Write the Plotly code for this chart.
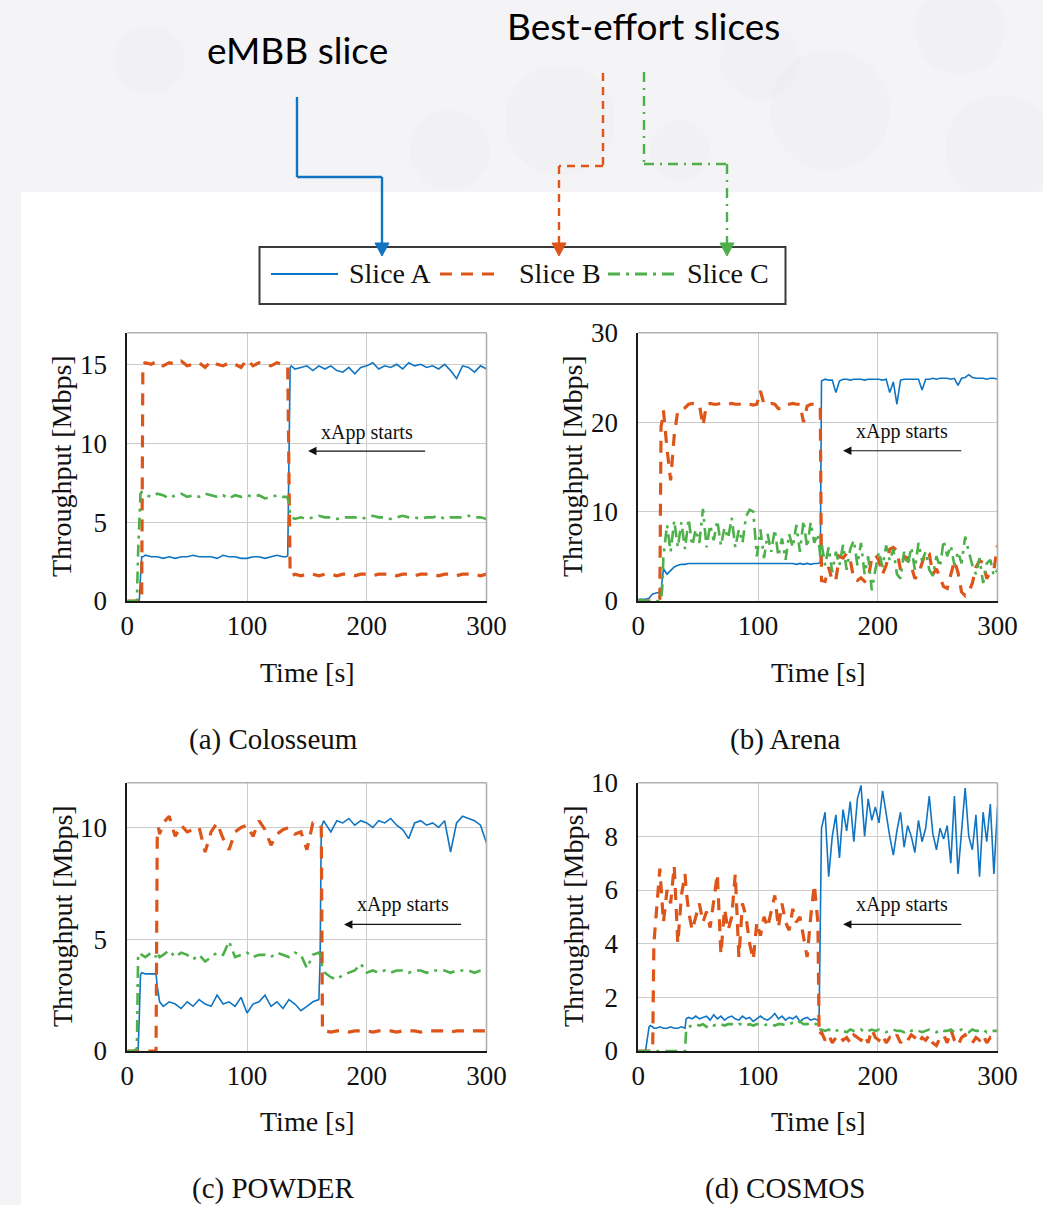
import plotly.graph_objects as go
from plotly.subplots import make_subplots

W, H = 1043, 1205

# ------------------------------------------------------------------ data
# (a) Colosseum
t_a = [0, 5, 8, 9, 10, 11, 12, 13, 15,
       20, 25, 30, 35, 40, 45, 50, 55, 60, 65, 70, 75, 80, 85, 90, 95, 100, 105, 110, 115, 120, 125, 130,
       133, 134, 135, 136, 137,
       140, 145, 150, 155, 160, 165, 170, 175, 180, 185,
       190, 195, 200, 205, 210, 215, 220, 225, 230, 235,
       240, 245, 250, 255, 260, 265, 270, 275, 280, 285,
       290, 295, 300]
a_sliceA = [0, 0, 0, 0, 0, 1.5, 2.8, 2.8, 2.9,
            2.8, 2.8, 2.7, 2.8, 2.7, 2.8, 2.8, 2.9, 2.8, 2.8, 2.8, 2.7, 2.9, 2.8, 2.8, 2.7, 2.7, 2.8, 2.8, 2.7, 2.8, 2.9, 2.8,
            2.8, 2.9, 9.0, 14.8, 14.9,
            14.7, 14.8, 14.9, 14.6, 14.9, 14.7, 14.9, 14.6, 14.5, 14.8,
            14.4, 14.8, 14.9, 15.1, 14.7, 14.9, 14.8, 15.0, 14.7, 15.1,
            14.9, 15.0, 14.8, 14.9, 14.7, 15.0, 14.6, 14.1, 14.9, 14.8,
            14.5, 14.9, 14.7]
a_sliceB = [0, 0, 0, 0, 0, 0, 0, 15.0, 15.1,
            15.0, 15.2, 14.9, 15.1, 15.0, 15.2, 14.9, 15.0, 15.1, 14.8, 15.2, 15.0, 14.9, 15.1, 15.0, 14.8, 15.3, 14.9, 15.1, 15.0, 14.9, 15.1, 15.0,
            14.9, 14.8, 8.0, 1.7, 1.6,
            1.7, 1.6, 1.7, 1.7, 1.6, 1.7, 1.7, 1.6, 1.7, 1.7,
            1.6, 1.7, 1.7, 1.6, 1.7, 1.7, 1.7, 1.6, 1.7, 1.7,
            1.6, 1.7, 1.7, 1.7, 1.6, 1.7, 1.7, 1.6, 1.7, 1.7,
            1.7, 1.6, 1.7]
a_sliceC = [0, 0, 0, 3.0, 5.5, 6.8, 6.9, 6.8, 6.7,
            6.6, 6.8, 6.7, 6.5, 6.7, 6.8, 6.6, 6.7, 6.6, 6.8, 6.7, 6.6, 6.7, 6.5, 6.7, 6.6, 6.7, 6.6, 6.7, 6.5, 6.6, 6.7, 6.6,
            6.6, 6.5, 6.2, 5.5, 5.3,
            5.2, 5.3, 5.2, 5.3, 5.4, 5.3, 5.3, 5.2, 5.3, 5.3,
            5.3, 5.2, 5.3, 5.4, 5.3, 5.3, 5.2, 5.3, 5.4, 5.3,
            5.3, 5.2, 5.3, 5.3, 5.4, 5.2, 5.3, 5.3, 5.3, 5.4,
            5.3, 5.3, 5.2]

# (b) Arena
t_b = [0, 3, 6, 9, 12, 15, 18, 19, 20, 21,
       24, 27, 30, 33, 36, 39, 42, 45, 48, 51,
       54, 57, 60, 63, 66, 69, 72, 75, 78, 81,
       84, 87, 90, 93, 96, 99, 102, 105, 108, 111,
       114, 117, 120, 123, 126, 129, 132, 135, 138, 141,
       144, 147, 150, 152,
       153, 156, 159, 162, 165, 168, 171, 174, 177, 180,
       183, 186, 189, 192, 195, 198, 201, 204, 207, 210,
       213, 216, 219, 222, 225, 228, 231, 234, 237, 240,
       243, 246, 249, 252, 255, 258, 261, 264, 267, 270,
       273, 276, 279, 282, 285, 288, 291, 294, 297, 300]
b_sliceA = [0.2, 0.2, 0.2, 0.3, 0.8, 0.9, 1.0, 1.2, 2.5, 3.6,
            3.0, 3.4, 3.8, 4.0, 4.1, 4.1, 4.2, 4.2, 4.2, 4.2,
            4.2, 4.2, 4.2, 4.2, 4.2, 4.2, 4.2, 4.2, 4.2, 4.2,
            4.2, 4.2, 4.2, 4.2, 4.2, 4.2, 4.2, 4.2, 4.2, 4.2,
            4.2, 4.2, 4.2, 4.2, 4.2, 4.2, 4.1, 4.2, 4.1, 4.2,
            4.1, 4.2, 4.2, 4.3,
            24.6, 24.8, 24.7, 24.7, 23.3, 24.6, 24.8, 24.8, 24.7, 24.8,
            24.8, 24.8, 24.7, 24.8, 24.8, 24.8, 24.8, 24.7, 24.8, 23.3,
            24.5, 22.0, 24.7, 24.8, 24.8, 24.8, 24.8, 24.8, 23.6, 24.8,
            24.8, 24.9, 24.8, 24.9, 24.9, 24.9, 24.8, 24.9, 24.1, 24.9,
            25.0, 25.3, 25.0, 24.9, 24.9, 24.9, 24.8, 24.9, 24.9, 24.8]
b_sliceB = [0, 0, 0, 0, 0, 0, 0.3, 19.5, 20.2, 21.3,
            17.0, 13.5, 18.5, 21.3, 21.5, 21.6, 22.0, 22.1, 22.0, 22.0,
            19.6, 22.0, 22.1, 22.0, 22.0, 22.1, 22.0, 22.0, 22.1, 22.0,
            22.0, 22.1, 22.0, 22.0, 21.9, 22.0, 23.5, 22.0, 22.0, 22.1,
            22.0, 21.5, 21.6, 22.0, 22.0, 22.1, 22.0, 22.0, 20.0, 21.8,
            22.0, 22.0, 22.0, 21.8,
            2.3, 2.2, 3.8, 2.2, 2.4, 5.0, 4.8, 5.3, 4.6, 2.4,
            2.3, 2.6, 2.2, 2.5, 4.8, 5.2, 4.5, 3.0, 4.0, 5.8,
            6.0, 5.6, 3.5, 5.0, 4.8, 3.9, 2.5, 3.0, 4.2, 5.5,
            5.3, 3.0, 3.6, 2.5, 1.6, 1.4, 3.0, 4.5, 3.2, 1.0,
            0.6, 1.0, 2.0, 3.8, 4.5, 4.3, 2.5, 3.2, 3.5, 6.2]
b_sliceC = [0.1, 0.1, 0, 0, 0, 0, 0, 0.1, 1.5, 5.0,
            8.5, 5.5, 9.0, 6.0, 8.8, 5.8, 9.2, 6.2, 8.0, 6.5,
            10.3, 6.0, 8.5, 6.8, 9.0, 6.2, 8.2, 7.0, 9.3, 6.0,
            8.0, 6.5, 9.5, 10.2, 10.0, 5.0, 8.0, 4.8, 7.5, 5.5,
            8.0, 5.0, 7.0, 4.6, 7.5, 6.0, 8.5, 5.5, 9.0, 6.0,
            8.8, 6.5, 7.5, 5.0,
            6.5, 4.0, 6.0, 3.2, 5.5, 4.0, 6.3, 3.5, 5.8, 6.8,
            4.0, 6.5, 3.0, 5.0, 1.2, 3.5, 5.5, 3.8, 6.2, 4.5,
            5.8, 3.0, 2.5, 5.5, 4.0, 6.0, 3.5, 6.5, 4.5, 5.5,
            3.5, 2.8, 5.0, 3.8, 6.8, 5.0, 6.2, 4.0, 5.5, 4.2,
            7.2, 5.5, 4.0, 3.0, 4.8, 2.0, 4.2, 4.6, 2.8, 3.5]

# (c) POWDER
t_c = [0, 5, 8, 9, 10, 11, 12, 15, 20,
       23, 24, 25, 26, 27,
       30, 35, 40, 45, 50, 55, 60, 65, 70, 75,
       80, 85, 90, 95, 100, 105, 110, 115, 120, 125,
       130, 135, 140, 145, 150, 155, 160,
       161, 162, 163, 164,
       165, 170, 175, 180, 185, 190, 195, 200, 205, 210,
       215, 220, 225, 230, 235, 240, 245, 250, 255, 260,
       265, 270, 275, 280, 285, 290, 295, 300]
c_sliceA = [0, 0, 0, 0, 1.5, 3.4, 3.5, 3.45, 3.45,
            3.45, 3.45, 2.9, 2.4, 2.2,
            2.0, 2.2, 2.1, 1.9, 2.2, 2.0, 2.3, 2.1, 2.0, 2.5,
            2.1, 2.2, 2.0, 2.4, 1.7, 2.1, 2.2, 2.5, 2.0, 2.2,
            1.9, 2.3, 2.1, 1.8, 2.0, 2.2, 2.3,
            4.0, 10.0, 10.2, 10.3,
            10.2, 9.8, 10.3, 10.2, 10.4, 10.1, 10.3, 10.2, 10.0, 10.3,
            10.2, 10.4, 10.1, 9.9, 9.5, 10.2, 10.3, 10.1, 10.2, 10.0,
            10.3, 8.9, 10.2, 10.5, 10.4, 10.3, 10.1, 9.3]
c_sliceB = [0, 0, 0, 0, 0, 0, 0, 0, 0,
            0, 0, 9.5, 10.0, 9.7,
            10.2, 10.5, 9.6, 10.1, 9.8, 9.9, 10.0, 8.9, 9.8, 10.2,
            9.5, 9.0, 9.8, 10.0, 10.1, 9.6, 10.3, 9.9, 9.2, 9.7,
            9.9, 10.0, 9.7, 9.8, 9.0, 10.2, 10.2,
            10.1, 10.0, 0.9, 0.9,
            0.9, 0.85, 0.9, 0.9, 0.85, 0.9, 0.9, 0.9, 0.85, 0.9,
            0.9, 0.9, 0.85, 0.9, 0.9, 0.9, 0.85, 0.9, 0.9, 0.9,
            0.9, 0.85, 0.9, 0.9, 0.9, 0.9, 0.9, 0.9]
c_sliceC = [0, 0, 0.1, 4.2, 4.3, 4.4, 4.3, 4.2, 4.4,
            4.3, 4.2, 4.4, 4.3, 4.2,
            4.3, 4.5, 4.2, 4.4, 4.3, 4.1, 4.3, 4.0, 4.2, 4.4,
            4.3, 4.9, 4.2, 4.3, 4.4, 4.2, 4.3, 4.3, 4.2, 4.4,
            4.3, 4.2, 4.4, 4.3, 3.7, 4.3, 4.4,
            4.3, 4.0, 3.7, 3.6,
            3.5, 3.3, 3.2, 3.4, 3.5, 3.6, 3.9, 3.5, 3.6, 3.5,
            3.6, 3.5, 3.6, 3.6, 3.5, 3.6, 3.6, 3.5, 3.6, 3.6,
            3.6, 3.5, 3.6, 3.6, 3.6, 3.5, 3.6, 3.6]

# (d) COSMOS
t_d = [0, 3, 6, 9, 10, 12, 13, 15, 18, 21,
       24, 27, 30, 33, 36, 39, 40, 42, 45, 48,
       51, 54, 57, 60, 63, 66, 69, 72, 75, 78,
       81, 84, 87, 90, 93, 96, 99, 102, 105, 108,
       111, 114, 117, 120, 123, 126, 129, 132, 135, 138,
       141, 144, 147, 150, 151,
       153, 156, 159, 162, 165, 168, 171, 174, 177, 180,
       183, 186, 189, 192, 195, 198, 201, 204, 207, 210,
       213, 216, 219, 222, 225, 228, 231, 234, 237, 240,
       243, 246, 249, 252, 255, 258, 261, 264, 267, 270,
       273, 276, 279, 282, 285, 288, 291, 294, 297, 300]
d_sliceA = [0, 0, 0, 0.9, 0.95, 0.9, 0.85, 0.85, 0.9, 0.85,
            0.85, 0.9, 0.85, 0.85, 0.9, 0.85, 1.2, 1.25, 1.2, 1.3,
            1.2, 1.25, 1.3, 1.15, 1.35, 1.2, 1.3, 1.15, 1.25, 1.3,
            1.2, 1.15, 1.3, 1.2, 1.25, 1.1, 1.2, 1.3, 1.2, 1.15,
            1.25, 1.4, 1.2, 1.3, 1.15, 1.25, 1.2, 1.3, 1.1, 1.2,
            1.25, 1.15, 1.2, 1.15, 1.2,
            8.3, 8.9, 6.5, 8.0, 8.8, 7.2, 9.0, 8.2, 9.3, 7.8,
            9.4, 9.9, 8.0, 9.4, 8.6, 9.1, 8.5, 9.7, 8.8, 8.0,
            7.3, 8.2, 8.9, 7.6, 8.4, 8.0, 7.4, 8.6, 7.8, 8.3,
            9.5, 8.1, 7.5, 8.3, 7.9, 8.4, 7.0, 9.5, 6.6, 8.2,
            9.8, 8.0, 7.5, 8.8, 6.5, 8.9, 7.8, 9.2, 6.6, 9.1]
d_sliceB = [0, 0, 0, 0, 0, 0, 4.0, 5.0, 6.8, 4.8,
            6.0, 5.5, 6.9, 4.0, 5.8, 6.6, 6.0, 5.2, 4.5, 5.0,
            5.5, 4.8, 5.2, 4.6, 5.5, 6.6, 3.6, 5.3, 4.5, 5.0,
            6.6, 3.5, 5.5, 5.0, 4.0, 3.4, 4.8, 4.3, 5.0, 4.6,
            5.2, 5.8, 4.6, 5.5, 4.8, 4.5, 5.3, 4.8, 5.0, 4.2,
            3.5, 5.0, 6.2, 4.8, 0.6,
            0.7, 0.4, 0.6, 0.3, 0.5, 0.6, 0.4, 0.5, 0.3, 0.6,
            0.5, 0.4, 0.6, 0.3, 0.8, 0.5, 0.4, 0.6, 0.3, 0.5,
            0.4, 0.6, 0.3, 0.5, 0.4, 0.6, 0.5, 0.3, 0.5, 0.4,
            0.6, 0.3, 0.2, 0.5, 0.6, 0.3, 0.8, 0.4, 0.2, 0.5,
            0.6, 0.4, 0.3, 0.5, 0.4, 0.6, 0.3, 0.5, 0.4, 0.4]
d_sliceC = [0, 0, 0, 0, 0, 0, 0, 0, 0, 0,
            0, 0, 0, 0, 0, 0, 0.8, 0.9, 0.95, 1.0,
            0.95, 1.0, 0.9, 1.0, 0.95, 1.0, 1.0, 0.95, 1.0, 1.0,
            0.95, 1.0, 1.0, 0.95, 1.0, 0.95, 1.0, 1.0, 0.95, 1.0,
            1.0, 0.95, 1.0, 1.0, 0.95, 1.0, 1.05, 1.0, 1.1, 1.0,
            1.0, 1.05, 1.0, 1.0, 0.8,
            0.8, 0.75, 0.8, 0.7, 0.75, 0.8, 0.75, 0.7, 0.8, 0.75,
            0.75, 0.8, 0.7, 0.75, 0.8, 0.75, 0.8, 0.75, 0.7, 0.75,
            0.8, 0.75, 0.75, 0.7, 0.8, 0.75, 0.8, 0.75, 0.7, 0.75,
            0.8, 0.75, 0.7, 0.8, 0.75, 0.75, 0.8, 0.7, 0.75, 0.8,
            0.75, 0.7, 0.8, 0.75, 0.75, 0.8, 0.7, 0.75, 0.75, 0.75]

series_names = ["Slice A", "Slice B", "Slice C"]
captions = ["(a) Colosseum", "(b) Arena", "(c) POWDER", "(d) COSMOS"]
y_ranges = [[0, 17], [0, 30], [0, 12], [0, 10]]
y_ticks = [[0, 5, 10, 15], [0, 10, 20, 30], [0, 5, 10], [0, 2, 4, 6, 8, 10]]
x_ticks = [0, 100, 200, 300]
annot_text = "xApp starts"
top_labels = ["eMBB slice", "Best-effort slices"]

panels = [
    (t_a, [a_sliceA, a_sliceB, a_sliceC]),
    (t_b, [b_sliceA, b_sliceB, b_sliceC]),
    (t_c, [c_sliceA, c_sliceB, c_sliceC]),
    (t_d, [d_sliceA, d_sliceB, d_sliceC]),
]

# ------------------------------------------------------------------ style
BLUE = "#0f74c2"
ORANGE = "#dd5519"
GREEN = "#4db04a"
SERIF = "Liberation Serif"
SANS = "Lato"
styles = [
    dict(color=BLUE, width=1.6, dash="solid"),
    dict(color=ORANGE, width=3.2, dash="12px,9px"),
    dict(color=GREEN, width=2.6, dash="12px,6px,3px,6px"),
]

def px(x):
    return x / W

def py(y):
    return 1 - y / H

fig = make_subplots(rows=2, cols=2)

for i, (t, ys) in enumerate(panels):
    r, c = i // 2 + 1, i % 2 + 1
    for name, y, st in zip(series_names, ys, styles):
        fig.add_trace(go.Scatter(x=t, y=y, mode="lines", name=name, line=st,
                                 showlegend=False, hoverinfo="skip"), row=r, col=c)

x_domains = [[127.3 / W, 486.5 / W], [638.3 / W, 997.5 / W]]
y_domains = [[py(601), py(332.7)], [py(1051), py(782.7)]]

axis_common = dict(showgrid=True, gridcolor="#cccccc", gridwidth=1.3, zeroline=False,
                   showline=True, linecolor="#1a1a1a", linewidth=2, mirror=False,
                   tickcolor="rgba(0,0,0,0)", automargin=False,
                   tickfont=dict(family=SERIF, size=27, color="#111111"),
                   layer="below traces", fixedrange=True)

for i in range(4):
    r, c = i // 2, i % 2
    sfx = "" if i == 0 else str(i + 1)
    fig.layout["xaxis" + sfx].update(domain=x_domains[c], range=[0, 300],
                                     tickvals=x_ticks, ticks="", **axis_common)
    fig.layout["yaxis" + sfx].update(domain=y_domains[r], range=y_ranges[i],
                                     tickvals=y_ticks[i], ticks="outside", ticklen=13,
                                     **axis_common)

shapes = []
annotations = []

# faint background decoration in the upper band
for (cx, cy, rr) in [(560, 120, 55), (830, 110, 60), (1000, 150, 55), (760, 60, 40),
                     (450, 150, 40), (960, 30, 45), (680, 150, 30), (150, 60, 35)]:
    shapes.append(dict(type="circle", xref="paper", yref="paper", layer="below",
                       x0=px(cx - rr), x1=px(cx + rr), y0=py(cy + rr), y1=py(cy - rr),
                       fillcolor="rgba(190,190,200,0.05)", line=dict(width=0)))
# white panel
shapes.append(dict(type="rect", xref="paper", yref="paper", layer="below",
                   x0=px(21), x1=1, y0=0, y1=py(192),
                   fillcolor="white", line=dict(width=0)))

# top/right light frame of each axis
for i in range(4):
    sfx = "" if i == 0 else str(i + 1)
    xr, yr = "x" + sfx + " domain", "y" + sfx + " domain"
    shapes.append(dict(type="line", xref=xr, yref=yr, x0=0, x1=1, y0=1, y1=1,
                       line=dict(color="#b0b0b0", width=1.6)))
    shapes.append(dict(type="line", xref=xr, yref=yr, x0=1, x1=1, y0=0, y1=1,
                       line=dict(color="#b0b0b0", width=1.6)))

# legend box
shapes.append(dict(type="rect", xref="paper", yref="paper",
                   x0=px(259.5), x1=px(785.5), y0=py(304), y1=py(247),
                   fillcolor="white", line=dict(color="#3a3a3a", width=2)))
leg_samples = [(271, 338), (440, 502), (608, 675)]
leg_text_x = [347, 517, 685]
for (x0, x1), st, name, tx in zip(leg_samples, styles, series_names, leg_text_x):
    shapes.append(dict(type="line", xref="paper", yref="paper",
                       x0=px(x0), x1=px(x1), y0=py(274), y1=py(274),
                       line=dict(color=st["color"], width=2.2 if st["dash"] == "solid" else 3,
                                 dash=st["dash"])))
    annotations.append(dict(xref="paper", yref="paper", x=px(tx), y=py(274), xanchor="left",
                            yanchor="middle", text=name, showarrow=False,
                            font=dict(family=SERIF, size=28, color="#111111")))

# connectors from the top labels down to the legend
connectors = [
    ([(297, 97), (297, 177), (382, 177), (382, 243)], BLUE, "solid"),
    ([(603, 73), (603, 166), (559, 166), (559, 243)], ORANGE, "8px,6px"),
    ([(644, 72), (644, 164), (727, 164), (727, 243)], GREEN, "10px,6px,2px,6px"),
]
for pts, col, dash in connectors:
    for (xa, ya), (xb, yb) in zip(pts[:-1], pts[1:]):
        shapes.append(dict(type="line", xref="paper", yref="paper",
                           x0=px(xa), y0=py(ya), x1=px(xb), y1=py(yb),
                           line=dict(color=col, width=2.4, dash=dash)))
    xt, yt = pts[-1]
    path = "M {},{} L {},{} L {},{} Z".format(px(xt - 7), py(yt), px(xt + 7), py(yt),
                                              px(xt), py(yt + 13))
    shapes.append(dict(type="path", xref="paper", yref="paper", path=path,
                       fillcolor=col, line=dict(color=col, width=1)))

annotations.append(dict(xref="paper", yref="paper", x=px(297), y=py(50), text=top_labels[0],
                        showarrow=False, xanchor="center", yanchor="middle",
                        font=dict(family=SANS, size=37, color="#000000")))
annotations.append(dict(xref="paper", yref="paper", x=px(643), y=py(25), text=top_labels[1],
                        showarrow=False, xanchor="center", yanchor="middle",
                        font=dict(family=SANS, size=37, color="#000000")))

# axis titles and captions
ytitle_x = [62, 573]
xtitle_x = [307, 818]
row_mid = [466, 916]
xtitle_y = [672, 1121]
cap_x = [273, 785]
cap_y = [739, 1188]
for r in range(2):
    for c in range(2):
        annotations.append(dict(xref="paper", yref="paper", x=px(ytitle_x[c]), y=py(row_mid[r]),
                                text="Throughput [Mbps]", textangle=-90, showarrow=False,
                                xanchor="center", yanchor="middle",
                                font=dict(family=SERIF, size=28, color="#111111")))
        annotations.append(dict(xref="paper", yref="paper", x=px(xtitle_x[c]), y=py(xtitle_y[r]),
                                text="Time [s]", showarrow=False, xanchor="center", yanchor="middle",
                                font=dict(family=SERIF, size=28, color="#111111")))
        annotations.append(dict(xref="paper", yref="paper", x=px(cap_x[c]), y=py(cap_y[r]),
                                text=captions[2 * r + c], showarrow=False,
                                xanchor="center", yanchor="middle",
                                font=dict(family=SERIF, size=29, color="#111111")))

# "xApp starts" arrows (text position, arrow y, tip x, tail x) in data units
xapp = [(200, 10.7, 9.5, 151, 250),
        (220, 19.0, 16.8, 171, 271),
        (230, 6.55, 5.66, 181, 280),
        (220, 5.45, 4.72, 171, 271)]
for i, (tx, ty, ay, tip, tail) in enumerate(xapp):
    sfx = "" if i == 0 else str(i + 1)
    annotations.append(dict(xref="x" + sfx, yref="y" + sfx, x=tx, y=ty, text=annot_text,
                            showarrow=False, xanchor="center", yanchor="middle",
                            font=dict(family=SERIF, size=20, color="#111111")))
    annotations.append(dict(xref="x" + sfx, yref="y" + sfx, x=tip, y=ay,
                            axref="x" + sfx, ayref="y" + sfx, ax=tail, ay=ay,
                            text="", showarrow=True, arrowhead=2, arrowsize=1.4,
                            arrowwidth=1.2, arrowcolor="#111111"))

fig.update_layout(width=W, height=H, margin=dict(l=0, r=0, t=0, b=0, pad=0),
                  autosize=False,
                  font=dict(family=SERIF, size=27, color="#111111"),
                  paper_bgcolor="#f4f4f6", plot_bgcolor="white",
                  shapes=shapes, annotations=annotations, showlegend=False)

fig.write_html("out.html", config={"responsive": False, "displayModeBar": False},
               post_script="document.body.style.margin='0';document.body.style.padding='0';"
                           "document.body.style.overflow='hidden';")
